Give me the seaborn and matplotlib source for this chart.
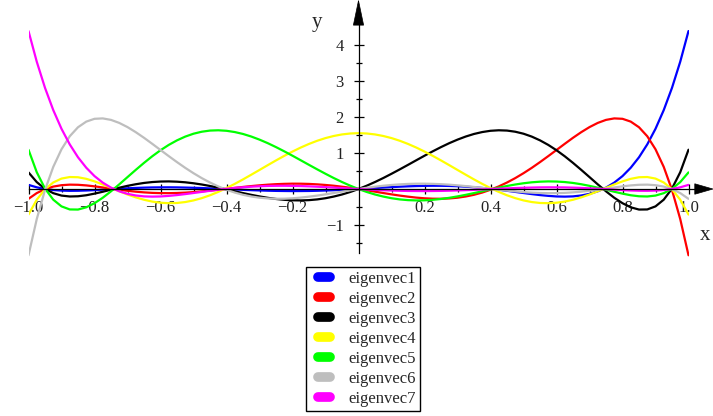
import numpy as np
import pandas as pd
import matplotlib
matplotlib.use("Agg")
import matplotlib.pyplot as plt
import seaborn as sns
from matplotlib.lines import Line2D
from matplotlib.patches import Polygon
from matplotlib.legend_handler import HandlerLine2D
from matplotlib.ticker import FixedLocator

# sample positions along x (step 0.025)
x_values = np.round(np.linspace(-1.0, 1.0, 81), 3)

eigenvec1 = [0.114, 0.047, 0.001, -0.028, -0.044, -0.050, -0.048, -0.041, -0.031, -0.018,
             -0.004, 0.008, 0.020, 0.030, 0.038, 0.044, 0.046, 0.047, 0.045, 0.040,
             0.034, 0.027, 0.018, 0.008, -0.002, -0.013, -0.023, -0.032, -0.040, -0.047,
             -0.052, -0.055, -0.057, -0.056, -0.054, -0.049, -0.042, -0.034, -0.024, -0.012,
             0.000,
             0.013, 0.026, 0.040, 0.052, 0.064, 0.074, 0.082, 0.087, 0.090, 0.089,
             0.085, 0.077, 0.065, 0.049, 0.029, 0.006, -0.020, -0.049, -0.080, -0.111,
             -0.141, -0.168, -0.190, -0.206, -0.211, -0.204, -0.179, -0.134, -0.063, 0.038,
             0.177, 0.358, 0.590, 0.879, 1.236, 1.668, 2.187, 2.803, 3.528, 4.376]
eigenvec2 = [-0.272, -0.113, -0.003, 0.067, 0.106, 0.121, 0.117, 0.100, 0.074, 0.043,
             0.011, -0.021, -0.049, -0.074, -0.093, -0.107, -0.114, -0.115, -0.110, -0.100,
             -0.085, -0.066, -0.044, -0.020, 0.006, 0.032, 0.057, 0.081, 0.102, 0.120,
             0.134, 0.143, 0.148, 0.147, 0.141, 0.129, 0.112, 0.091, 0.064, 0.034,
             0.000,
             -0.036, -0.073, -0.111, -0.148, -0.182, -0.212, -0.238, -0.257, -0.268, -0.270,
             -0.261, -0.241, -0.207, -0.160, -0.098, -0.020, 0.072, 0.180, 0.302, 0.438,
             0.586, 0.745, 0.911, 1.081, 1.252, 1.419, 1.575, 1.715, 1.831, 1.915,
             1.956, 1.945, 1.867, 1.711, 1.462, 1.101, 0.612, -0.026, -0.834, -1.835]
eigenvec3 = [0.460, 0.192, 0.005, -0.115, -0.182, -0.207, -0.201, -0.173, -0.128, -0.076,
             -0.019, 0.036, 0.088, 0.132, 0.168, 0.193, 0.207, 0.211, 0.203, 0.186,
             0.159, 0.125, 0.084, 0.038, -0.012, -0.062, -0.113, -0.161, -0.205, -0.244,
             -0.276, -0.299, -0.313, -0.316, -0.308, -0.288, -0.255, -0.209, -0.152, -0.082,
             0.000,
             0.092, 0.194, 0.304, 0.422, 0.544, 0.669, 0.796, 0.922, 1.044, 1.161,
             1.270, 1.368, 1.454, 1.525, 1.578, 1.613, 1.627, 1.619, 1.587, 1.532,
             1.452, 1.348, 1.222, 1.074, 0.907, 0.724, 0.530, 0.330, 0.129, -0.064,
             -0.242, -0.393, -0.507, -0.569, -0.566, -0.481, -0.295, 0.013, 0.466, 1.088]
eigenvec4 = [-0.707, -0.297, -0.008, 0.181, 0.289, 0.332, 0.326, 0.282, 0.212, 0.126,
             0.032, -0.062, -0.152, -0.231, -0.298, -0.348, -0.380, -0.393, -0.387, -0.361,
             -0.316, -0.253, -0.174, -0.080, 0.026, 0.142, 0.266, 0.396, 0.528, 0.661,
             0.792, 0.918, 1.038, 1.149, 1.249, 1.337, 1.411, 1.469, 1.512, 1.538,
             1.547,
             1.538, 1.512, 1.469, 1.411, 1.337, 1.249, 1.149, 1.038, 0.918, 0.792,
             0.661, 0.528, 0.396, 0.266, 0.142, 0.026, -0.080, -0.174, -0.253, -0.316,
             -0.361, -0.387, -0.393, -0.380, -0.348, -0.298, -0.231, -0.152, -0.062, 0.032,
             0.126, 0.212, 0.282, 0.326, 0.332, 0.289, 0.181, -0.008, -0.297, -0.707]
eigenvec5 = [1.088, 0.466, 0.013, -0.295, -0.481, -0.566, -0.569, -0.507, -0.393, -0.242,
             -0.064, 0.129, 0.330, 0.530, 0.724, 0.907, 1.074, 1.222, 1.348, 1.452,
             1.532, 1.587, 1.619, 1.627, 1.613, 1.578, 1.525, 1.454, 1.368, 1.270,
             1.161, 1.044, 0.922, 0.796, 0.669, 0.544, 0.422, 0.304, 0.194, 0.092,
             0.000,
             -0.082, -0.152, -0.209, -0.255, -0.288, -0.308, -0.316, -0.313, -0.299, -0.276,
             -0.244, -0.205, -0.161, -0.113, -0.062, -0.012, 0.038, 0.084, 0.125, 0.159,
             0.186, 0.203, 0.211, 0.207, 0.193, 0.168, 0.132, 0.088, 0.036, -0.019,
             -0.076, -0.128, -0.173, -0.201, -0.207, -0.182, -0.115, 0.005, 0.192, 0.460]
eigenvec6 = [-1.835, -0.834, -0.026, 0.612, 1.101, 1.462, 1.711, 1.867, 1.945, 1.956,
             1.915, 1.831, 1.715, 1.575, 1.419, 1.252, 1.081, 0.911, 0.745, 0.586,
             0.438, 0.302, 0.180, 0.072, -0.020, -0.098, -0.160, -0.207, -0.241, -0.261,
             -0.270, -0.268, -0.257, -0.238, -0.212, -0.182, -0.148, -0.111, -0.073, -0.036,
             0.000,
             0.034, 0.064, 0.091, 0.112, 0.129, 0.141, 0.147, 0.148, 0.143, 0.134,
             0.120, 0.102, 0.081, 0.057, 0.032, 0.006, -0.020, -0.044, -0.066, -0.085,
             -0.100, -0.110, -0.115, -0.114, -0.107, -0.093, -0.074, -0.049, -0.021, 0.011,
             0.043, 0.074, 0.100, 0.117, 0.121, 0.106, 0.067, -0.003, -0.113, -0.272]
eigenvec7 = [4.376, 3.528, 2.803, 2.187, 1.668, 1.236, 0.879, 0.590, 0.358, 0.177,
             0.038, -0.063, -0.134, -0.179, -0.204, -0.211, -0.206, -0.190, -0.168, -0.141,
             -0.111, -0.080, -0.049, -0.020, 0.006, 0.029, 0.049, 0.065, 0.077, 0.085,
             0.089, 0.090, 0.087, 0.082, 0.074, 0.064, 0.052, 0.040, 0.026, 0.013,
             0.000,
             -0.012, -0.024, -0.034, -0.042, -0.049, -0.054, -0.056, -0.057, -0.055, -0.052,
             -0.047, -0.040, -0.032, -0.023, -0.013, -0.002, 0.008, 0.018, 0.027, 0.034,
             0.040, 0.045, 0.047, 0.046, 0.044, 0.038, 0.030, 0.020, 0.008, -0.004,
             -0.018, -0.031, -0.041, -0.048, -0.050, -0.044, -0.028, 0.001, 0.047, 0.114]

series_names = ["eigenvec1", "eigenvec2", "eigenvec3", "eigenvec4",
                "eigenvec5", "eigenvec6", "eigenvec7"]
series_values = [eigenvec1, eigenvec2, eigenvec3, eigenvec4,
                 eigenvec5, eigenvec6, eigenvec7]
series_colors = ["#0000ff", "#ff0000", "#000000", "#ffff00",
                 "#00ff00", "#bebebe", "#ff00ff"]

x_ticks = [-1.0, -0.8, -0.6, -0.4, -0.2, 0.2, 0.4, 0.6, 0.8, 1.0]
x_tick_labels = ["\u22121.0", "\u22120.8", "\u22120.6", "\u22120.4", "\u22120.2",
                 "0.2", "0.4", "0.6", "0.8", "1.0"]
x_minor_ticks = [-0.9, -0.7, -0.5, -0.3, -0.1, 0.1, 0.3, 0.5, 0.7, 0.9]
y_ticks = [-1, 1, 2, 3, 4]
y_tick_labels = ["\u22121", "1", "2", "3", "4"]
y_minor_ticks = [-1.5, -0.5, 0.5, 1.5, 2.5, 3.5]

df = pd.concat(
    [pd.DataFrame({"x": x_values, "value": vals, "series": name})
     for name, vals in zip(series_names, series_values)],
    ignore_index=True,
)

sns.set_style("white")
plt.rcParams["font.family"] = ["Liberation Serif", "DejaVu Serif"]

W, H = 713, 416
fig = plt.figure(figsize=(W / 100, H / 100), dpi=100)
ax = fig.add_axes([28.5 / W, (H - 257.6) / H, 660 / W, 258.1 / H])
ax.patch.set_visible(False)
ax.set_xlim(-1.0, 1.0)
ax.set_ylim(-1.9, 5.25)

sns.lineplot(data=df, x="x", y="value", hue="series", hue_order=series_names,
             palette=dict(zip(series_names, series_colors)), linewidth=1.6,
             estimator=None, sort=False, legend=False, ax=ax)

# axes crossing at the origin
for side in ["top", "right"]:
    ax.spines[side].set_visible(False)
ax.spines["left"].set_position(("data", 0))
ax.spines["bottom"].set_position(("data", 0))
ax.spines["bottom"].set_bounds(-1.0, 1.03)
ax.spines["left"].set_bounds(-1.78, 4.6)
for side in ["left", "bottom"]:
    ax.spines[side].set_color("black")
    ax.spines[side].set_linewidth(0.9)
    ax.spines[side].set_clip_on(False)

# arrow heads
ax.add_patch(Polygon([[1.019, 0.145], [1.074, 0.0], [1.019, -0.145]], closed=True,
                     facecolor="black", edgecolor="black", lw=0.5, clip_on=False))
ax.add_patch(Polygon([[-0.0155, 4.54], [0.0, 5.22], [0.0155, 4.54]], closed=True,
                     facecolor="black", edgecolor="black", lw=0.5, clip_on=False))

ax.xaxis.set_major_locator(FixedLocator(x_ticks))
ax.xaxis.set_minor_locator(FixedLocator(x_minor_ticks))
ax.set_xticklabels(x_tick_labels)
ax.yaxis.set_major_locator(FixedLocator(y_ticks))
ax.yaxis.set_minor_locator(FixedLocator(y_minor_ticks))
ax.set_yticklabels(y_tick_labels)
ax.tick_params(axis="both", which="both", direction="inout", color="black",
               bottom=True, left=True, top=False, right=False, width=0.9)
ax.tick_params(axis="both", which="major", length=7, labelsize=12, labelcolor="#222222")
ax.tick_params(axis="both", which="minor", length=4.5)
ax.tick_params(axis="x", which="major", pad=4.4)
ax.tick_params(axis="y", which="major", pad=7.3)
ax.set_xlabel("")
ax.set_ylabel("")

fig.text(705.5 / W, 1 - 235.5 / H, "x", ha="center", va="center", fontsize=15)
fig.text(316.7 / W, 1 - 23 / H, "y", ha="center", va="center", fontsize=15)


class LeadLineHandler(HandlerLine2D):
    """Legend line drawn with an empty lead-in on its left."""

    def __init__(self, lead, **kwargs):
        super().__init__(**kwargs)
        self.lead = lead

    def get_xdata(self, legend, xdescent, ydescent, width, height, fontsize):
        xdata = np.array([-xdescent + self.lead * fontsize, -xdescent + width])
        return xdata, xdata


handles = [Line2D([], [], color=c, lw=7, solid_capstyle="round") for c in series_colors]
leg = fig.legend(handles, series_names, loc="upper left",
                 bbox_to_anchor=(306 / W, 1 - 267 / H), bbox_transform=fig.transFigure,
                 frameon=True, fancybox=False, framealpha=1, edgecolor="black",
                 fontsize=12, borderpad=0.25, labelspacing=0.24, handlelength=1.17,
                 handletextpad=1.12, borderaxespad=0,
                 handler_map={Line2D: LeadLineHandler(0.45)})
leg.get_frame().set_linewidth(1.0)

fig.savefig("out.png", dpi=100)
